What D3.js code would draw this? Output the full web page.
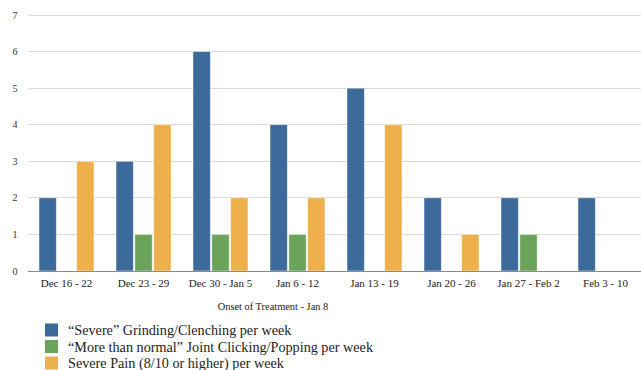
<!DOCTYPE html>
<html><head><meta charset="utf-8">
<script src="https://cdn.jsdelivr.net/npm/d3@7"></script>
<style>body{margin:0;background:#fff}svg{display:block}</style>
</head><body>
<svg id="c" width="641" height="370"></svg>
<script>
const categories = ["Dec 16 - 22","Dec 23 - 29","Dec 30 - Jan 5","Jan 6 - 12","Jan 13 - 19","Jan 20 - 26","Jan 27 - Feb 2","Feb 3 - 10"];
const seriesNames = ["\u201cSevere\u201d Grinding/Clenching per week","\u201cMore than normal\u201d Joint Clicking/Popping per week","Severe Pain (8/10 or higher) per week"];
const grinding = [2,3,6,4,5,2,2,2];
const clicking = [0,1,1,1,0,0,1,0];
const pain = [3,4,2,2,4,1,0,0];
const yTicks = [0,1,2,3,4,5,6,7];
const colors = ["#3b6a9b","#6ba35a","#eeb04b"];
const xTitle = "Onset of Treatment - Jan 8";

const FONT = "'Liberation Serif', 'Times New Roman', serif";
const series = [grinding, clicking, pain];
const svg = d3.select("#c");
const x = d3.scaleBand().domain(categories).range([28, 644]).paddingInner(0).paddingOuter(0);
const y = d3.scaleLinear().domain([0,7]).range([271, 15]);
const inner = d3.scaleBand().domain([0,1,2]).range([0, 55]).paddingInner(0.08);
const off = (x.bandwidth() - 55) / 2;

// grid
svg.append("g").selectAll("line").data(yTicks.filter(d=>d>0)).join("line")
  .attr("x1", 28).attr("x2", 641).attr("y1", d=>y(d)).attr("y2", d=>y(d))
  .attr("stroke", "#d9d9d9").attr("stroke-width", 1).attr("shape-rendering","crispEdges");
svg.append("g").selectAll("text").data(yTicks).join("text")
  .attr("x", 15).attr("y", d=>y(d)+3.5).attr("text-anchor","middle")
  .style("font-family", FONT).style("font-size", "10px").attr("fill","#333").text(d=>d);

// bars
series.forEach((vals, si) => {
  svg.append("g").selectAll("rect").data(vals.map((v,i)=>({v, c:categories[i]})).filter(d=>d.v>0)).join("rect")
    .attr("x", d => x(d.c) + off + inner(si))
    .attr("width", inner.bandwidth())
    .attr("y", d => y(d.v))
    .attr("height", d => y(0) - y(d.v))
    .attr("fill", colors[si])
    .attr("stroke", "rgba(255,255,255,0.6)").attr("stroke-width", 0.8);
});

// axis line
svg.append("line").attr("x1",28).attr("x2",641).attr("y1",y(0)+0.5).attr("y2",y(0)+0.5)
  .attr("stroke","#8a8a8a").attr("stroke-width",1);

// x labels
svg.append("g").selectAll("text").data(categories).join("text")
  .attr("x", d => x(d) + x.bandwidth()/2).attr("y", 287).attr("text-anchor","middle")
  .style("font-family", FONT).style("font-size", "11px").attr("fill","#222").text(d=>d);

svg.append("text").attr("x", 273).attr("y", 310).attr("text-anchor","middle")
  .style("font-family", FONT).style("font-size", "10.4px").attr("fill","#222").text(xTitle);

// legend
const lg = svg.append("g");
seriesNames.forEach((n,i) => {
  const cy = 330 + i*16.5;
  lg.append("rect").attr("x",45).attr("y",cy-6.5).attr("width",13).attr("height",13).attr("fill",colors[i]);
  lg.append("text").attr("x",68).attr("y",cy+5).style("font-family", FONT).style("font-size","14.2px")
    .attr("fill","#222").text(n);
});
</script>
</body></html>
